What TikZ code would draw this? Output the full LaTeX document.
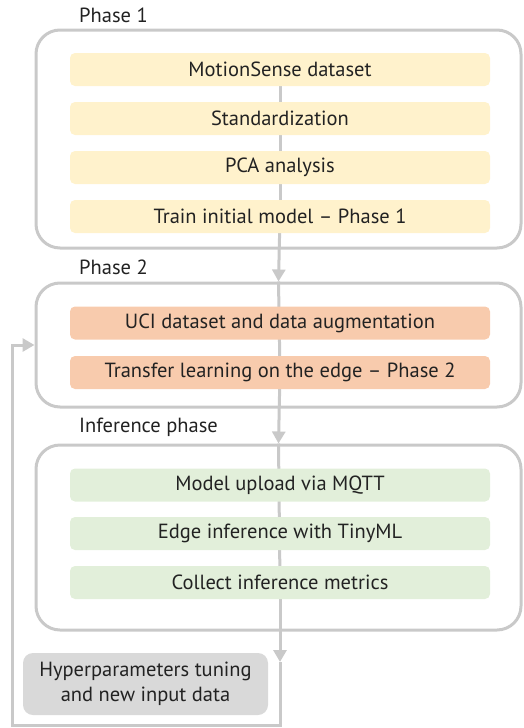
\documentclass[tikz,border=0pt]{standalone}
\usepackage{fontspec}
\setmainfont{PT Sans}
\usetikzlibrary{arrows.meta,backgrounds}
\definecolor{edgegray}{HTML}{C9C9C9}
\definecolor{inkgray}{HTML}{222222}
\definecolor{stepyellow}{HTML}{FFF2CC}
\definecolor{steporange}{HTML}{F8CBAD}
\definecolor{stepgreen}{HTML}{E2EFDA}
\definecolor{stepgray}{HTML}{D9D9D9}
\tikzset{
  x=1pt, y=-1pt,
  every node/.style={font=\fontsize{20.5}{25}\selectfont, text=inkgray},
  phasebox/.style={draw=edgegray, line width=3pt, rounded corners=24pt,
    minimum width=485pt, inner sep=0pt},
  stepbox/.style={rounded corners=5pt, minimum width=420pt, minimum height=33pt,
    inner sep=0pt},
  yellowstep/.style={stepbox, fill=stepyellow},
  orangestep/.style={stepbox, fill=steporange},
  greenstep/.style={stepbox, fill=stepgreen},
  phaselabel/.style={anchor=base west, inner sep=0pt},
  link/.style={draw=edgegray, line width=3pt},
  linkarrow/.style={link, -{Triangle[width=13pt,length=12pt]}},
}
\begin{document}
\begin{tikzpicture}
\useasboundingbox (0,0) rectangle (524,728);

% phase frames
\node[phasebox, minimum height=218pt] (p1) at (278.5,139) {};
\node[phasebox, minimum height=124pt] (p2) at (278.5,345) {};
\node[phasebox, minimum height=185pt] (p3) at (278.5,537.5) {};

% phase titles
\node[phaselabel] (l1) at (79,23) {Phase 1};
\node[phaselabel] (l2) at (79,274) {Phase 2};
\node[phaselabel] (l3) at (79,432) {Inference phase};

% phase 1 steps
\node[yellowstep] (m1) at (280,69.5) {MotionSense dataset};
\node[yellowstep] (m2) at (280,118.5) {Standardization};
\node[yellowstep] (m3) at (280,167.5) {PCA analysis};
\node[yellowstep] (m4) at (280,216.5) {Train initial model – Phase 1};

% phase 2 steps
\node[orangestep] (u1) at (280,323) {UCI dataset and data augmentation};
\node[orangestep] (u2) at (280,372.5) {Transfer learning on the edge – Phase 2};

% inference steps
\node[greenstep] (g1) at (280,485) {Model upload via MQTT};
\node[greenstep] (g2) at (280,533.5) {Edge inference with TinyML};
\node[greenstep] (g3) at (280,582.5) {Collect inference metrics};

% feedback box
\node[fill=stepgray, rounded corners=10pt, minimum width=245pt, minimum height=62pt,
  inner sep=0pt, align=center, font=\fontsize{20.5}{25}\selectfont] (h) at (145.5,684)
  {Hyperparameters tuning\\and new input data};

% loop corners
\coordinate (t) at (280,662);
\coordinate (c1) at (280,725);
\coordinate (c2) at (12,725);

\begin{scope}[on background layer]
  \draw[link] (m1.center) -- (m4.center);
  \draw[linkarrow] (m4.center) -- (p2.north);
  \draw[link] (p2.north) -- (u2.center);
  \draw[linkarrow] (u2.center) -- (p3.north);
  \draw[link] (p3.north) -- (g3.center);
  \draw[linkarrow] (g3.center) -- (t);
  \draw[linkarrow] (t) -- (c1) -- (c2) |- (p2.west);
\end{scope}
\end{tikzpicture}
\end{document}
